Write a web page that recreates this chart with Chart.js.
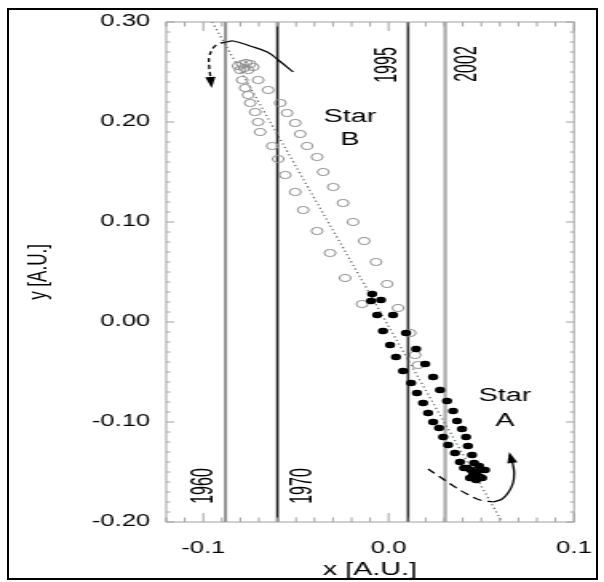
<!DOCTYPE html>
<html>
<head>
<meta charset="utf-8">
<script src="https://cdn.jsdelivr.net/npm/chart.js@4.4.1/dist/chart.umd.min.js"></script>
<style>
  html, body { margin: 0; padding: 0; background: #fff; overflow: hidden; }
  #wrap { position: relative; width: 604px; height: 582px; }
  #c { position: absolute; left: 0; top: 0; }
  #frame { position: absolute; left: 7px; top: 8px; width: 587px; height: 568px; border: 2px solid #000; pointer-events: none; }
</style>
</head>
<body>
<div id="wrap">
  <!-- drawn at 378px wide and stretched to 604px, like the squashed original figure -->
  <canvas id="c" width="378" height="582" style="width:604px;height:582px"></canvas>
  <div id="frame"></div>
</div>
<script>
// star B (open symbols)
const starBX = [-0.0812, -0.0790, -0.0769, -0.0747, -0.0731, -0.0779, -0.0758, -0.0801,
  -0.0704, -0.0650, -0.0585, -0.0548, -0.0504, -0.0477, -0.0440, -0.0386, -0.0353, -0.0299,
  -0.0246, -0.0192, -0.0132, -0.0068, -0.0008, 0.0051, 0.0116, 0.0159,
  -0.0790, -0.0774, -0.0758, -0.0747, -0.0720, -0.0704, -0.0693, -0.0628, -0.0596, -0.0558,
  -0.0504, -0.0461, -0.0386, -0.0316, -0.0235, -0.0143, 0.0143];
const starBY = [0.256, 0.258, 0.259, 0.258, 0.255, 0.254, 0.252, 0.252,
  0.242, 0.232, 0.219, 0.209, 0.199, 0.188, 0.176, 0.165, 0.150, 0.135,
  0.119, 0.100, 0.081, 0.060, 0.038, 0.014, -0.011, -0.043,
  0.242, 0.234, 0.227, 0.219, 0.210, 0.200, 0.190, 0.176, 0.163, 0.147,
  0.130, 0.112, 0.091, 0.069, 0.044, 0.018, -0.033];

// star A (filled symbols)
const starAX = [-0.0089, -0.0095, -0.0041, -0.0062, 0.0024, -0.0030, 0.0094, 0.0008, 0.0148,
  0.0040, 0.0197, 0.0078, 0.0240, 0.0121, 0.0277, 0.0153, 0.0315, 0.0186, 0.0348, 0.0213,
  0.0369, 0.0240, 0.0396, 0.0272, 0.0418, 0.0294, 0.0428, 0.0321, 0.0450, 0.0358, 0.0461,
  0.0385, 0.0477, 0.0423, 0.0493, 0.0455, 0.0439, 0.0472, 0.0504, 0.0520, 0.0488, 0.0445, 0.0407];
const starAY = [0.028, 0.021, 0.022, 0.007, 0.007, -0.009, -0.011, -0.023, -0.027,
  -0.035, -0.042, -0.049, -0.055, -0.061, -0.068, -0.071, -0.079, -0.081, -0.089, -0.091,
  -0.099, -0.100, -0.107, -0.106, -0.115, -0.115, -0.124, -0.123, -0.133, -0.131, -0.141,
  -0.140, -0.150, -0.146, -0.155, -0.153, -0.156, -0.158, -0.156, -0.148, -0.144, -0.148, -0.146];

// epoch markers
const epochLabels = ['1960', '1970', '1995', '2002'];
const epochX = [-0.088, -0.060, 0.0105, 0.0305];
const epochLabelX = [-0.0998, -0.0467, -0.0006, 0.0426];
const epochLabelY = [-0.164, -0.164, 0.257, 0.258];

// dotted line through both orbits
const lineX = [-0.0952, 0.0612];
const lineY = [0.30, -0.20];

// direction arcs
const topSolidX = [-0.0876, -0.0839, -0.0747, -0.0655, -0.0596, -0.0515];
const topSolidY = [0.280, 0.281, 0.276, 0.270, 0.262, 0.250];
const topDashX = [-0.0876, -0.0920, -0.0947, -0.0968, -0.0968, -0.0963, -0.0957];
const topDashY = [0.280, 0.278, 0.274, 0.265, 0.255, 0.247, 0.237];
const botDashX = [0.0213, 0.0277, 0.0342, 0.0423, 0.0493, 0.0563];
const botDashY = [-0.147, -0.155, -0.163, -0.172, -0.178, -0.180];
const botSolidX = [0.0563, 0.0612, 0.0644, 0.0671, 0.0677, 0.0671, 0.0655];
const botSolidY = [-0.180, -0.177, -0.171, -0.161, -0.151, -0.143, -0.133];

// text notes
const noteText = ['Star', 'B', 'Star', 'A'];
const noteX = [-0.0208, -0.0208, 0.0628, 0.0628];
const noteY = [0.205, 0.182, -0.074, -0.099];

// axes
const xMin = -0.12, xMax = 0.10, yMin = -0.20, yMax = 0.30;
const xTickValues = [-0.1, 0.0, 0.1];
const yTickValues = [-0.2, -0.1, 0.0, 0.1, 0.2, 0.3];

const S = 604 / 378;
const FONT = '"Liberation Sans", Arial, Helvetica, sans-serif';
const pts = (xs, ys) => xs.map((v, i) => ({ x: v, y: ys[i] }));

const epochColors = ['#8e8e8e', '#1c1c1c', '#2c2c2c', '#a9a9a9'];
const epochWidths = [2.0, 1.6, 1.6, 2.2];

const datasets = [
  { data: pts(starAX, starAY), pointRadius: 3.2, pointBackgroundColor: '#000', pointBorderWidth: 0, showLine: false, order: 0 },
  { data: pts(starBX, starBY), pointRadius: 3.6, pointBackgroundColor: 'rgba(0,0,0,0)', pointBorderColor: '#8f8f8f', pointBorderWidth: 1, showLine: false, order: 1 },
  { data: pts(lineX, lineY), showLine: true, pointRadius: 0, borderColor: '#5f6f5f', borderWidth: 1.3, borderDash: [1.2, 2.6], order: 3 },
  { data: pts(topSolidX, topSolidY), showLine: true, pointRadius: 0, borderColor: '#000', borderWidth: 1.2, tension: 0.4, order: 2 },
  { data: pts(topDashX, topDashY), showLine: true, pointRadius: 0, borderColor: '#000', borderWidth: 1.3, borderDash: [4, 3], tension: 0.4, order: 2 },
  { data: pts(botDashX, botDashY), showLine: true, pointRadius: 0, borderColor: '#000', borderWidth: 1.2, borderDash: [6, 4], tension: 0.4, order: 2 },
  { data: pts(botSolidX, botSolidY), showLine: true, pointRadius: 0, borderColor: '#000', borderWidth: 1.3, tension: 0.4, order: 2 }
];
epochX.forEach((v, i) => {
  datasets.push({ data: [{ x: v, y: yMin }, { x: v, y: yMax }], showLine: true, pointRadius: 0,
    borderColor: epochColors[i], borderWidth: epochWidths[i], order: 4 });
});

const arrows = [[topDashX, topDashY], [botSolidX, botSolidY]];

const deco = {
  id: 'deco',
  afterDatasetsDraw(chart) {
    const { ctx, chartArea: a, scales: { x, y } } = chart;
    ctx.save();

    // arrow heads
    ctx.fillStyle = '#000';
    arrows.forEach(([xs, ys]) => {
      const n = xs.length;
      const x0 = x.getPixelForValue(xs[n - 2]), y0 = y.getPixelForValue(ys[n - 2]);
      const x1 = x.getPixelForValue(xs[n - 1]), y1 = y.getPixelForValue(ys[n - 1]);
      const ang = Math.atan2(y1 - y0, x1 - x0);
      ctx.save();
      ctx.translate(x1, y1);
      ctx.rotate(ang);
      ctx.beginPath();
      ctx.moveTo(3, 0);
      ctx.lineTo(-8, -3.2);
      ctx.lineTo(-8, 3.2);
      ctx.closePath();
      ctx.fill();
      ctx.restore();
    });

    // inward ticks and frame
    ctx.strokeStyle = '#a0a0a0';
    ctx.lineWidth = 1;
    ctx.beginPath();
    for (let i = -12; i <= 10; i++) {
      const px = x.getPixelForValue(i / 100);
      const len = i % 10 === 0 ? 9 : 4.5;
      ctx.moveTo(px, a.bottom); ctx.lineTo(px, a.bottom - len);
      ctx.moveTo(px, a.top); ctx.lineTo(px, a.top + len);
    }
    for (let j = -20; j <= 30; j++) {
      const py = y.getPixelForValue(j / 100);
      const len = (j % 10 === 0 ? 8 : 4) / S;
      ctx.moveTo(a.left, py); ctx.lineTo(a.left + len, py);
      ctx.moveTo(a.right, py); ctx.lineTo(a.right - len, py);
    }
    ctx.stroke();
    ctx.strokeRect(a.left, a.top, a.width, a.height);

    // notes
    ctx.fillStyle = '#000';
    ctx.textAlign = 'center';
    ctx.textBaseline = 'middle';
    ctx.font = '18px ' + FONT;
    noteText.forEach((t, i) => {
      ctx.fillText(t, x.getPixelForValue(noteX[i]), y.getPixelForValue(noteY[i]));
    });

    // epoch labels, rotated
    ctx.font = '16px ' + FONT;
    epochLabels.forEach((t, i) => {
      ctx.save();
      ctx.translate(x.getPixelForValue(epochLabelX[i]), y.getPixelForValue(epochLabelY[i]));
      ctx.rotate(-Math.PI / 2);
      ctx.scale(1, 1.25);
      ctx.fillText(t, 0, 0);
      ctx.restore();
    });
    ctx.restore();
  }
};

new Chart(document.getElementById('c'), {
  type: 'scatter',
  data: { datasets },
  options: {
    responsive: false,
    devicePixelRatio: 1,
    animation: false,
    events: [],
    layout: { padding: { left: 0, right: 18.8, top: 22, bottom: 0 } },
    plugins: { legend: { display: false }, tooltip: { enabled: false } },
    scales: {
      x: {
        type: 'linear', min: xMin, max: xMax,
        afterBuildTicks: s => { s.ticks = xTickValues.map(v => ({ value: v })); },
        afterFit: s => { s.height = 60; s.paddingLeft = 0; s.paddingRight = 0; },
        ticks: { callback: v => v.toFixed(1), padding: 17, color: '#000', maxRotation: 0, autoSkip: false,
          font: { family: FONT, size: 16 } },
        grid: { display: false, drawTicks: false },
        border: { display: false },
        title: { display: true, text: 'x [A.U.]', color: '#000', font: { family: FONT, size: 18 },
          padding: { top: 0, bottom: 1 } }
      },
      y: {
        type: 'linear', min: yMin, max: yMax,
        afterBuildTicks: s => { s.ticks = yTickValues.map(v => ({ value: v })); },
        afterFit: s => { s.width = 104; s.paddingTop = 0; s.paddingBottom = 0; },
        ticks: { callback: v => v.toFixed(2), padding: 10, color: '#000', autoSkip: false,
          font: { family: FONT, size: 16 } },
        grid: { display: false, drawTicks: false },
        border: { display: false },
        title: { display: true, text: 'y [A.U.]', color: '#000', font: { family: FONT, size: 17 },
          padding: { top: 14, bottom: 0 } }
      }
    }
  },
  plugins: [deco]
});
</script>
</body>
</html>
